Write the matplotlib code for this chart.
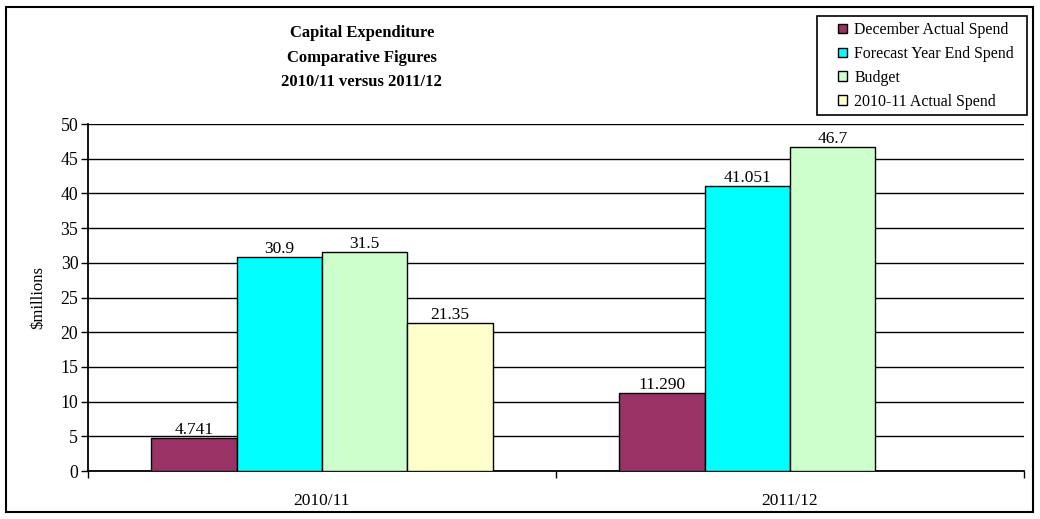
import matplotlib
matplotlib.use("Agg")
import matplotlib.pyplot as plt
import numpy as np
from matplotlib.patches import Rectangle

categories = ["2010/11", "2011/12"]
series_names = ["December Actual Spend", "Forecast Year End Spend", "Budget", "2010-11 Actual Spend"]
dec_actual = [4.741, 11.290]
forecast = [30.9, 41.051]
budget = [31.5, 46.7]
actual_1011 = [21.35, np.nan]
value_labels = [["4.741", "11.290"], ["30.9", "41.051"], ["31.5", "46.7"], ["21.35", ""]]
colors = ["#993366", "#00FFFF", "#CCFFCC", "#FFFFCC"]

plt.rcParams["font.family"] = ["Liberation Serif", "DejaVu Serif"]

fig = plt.figure(figsize=(10.4, 5.19), dpi=100)
ax = fig.add_axes([88 / 1040, 48 / 519, 936 / 1040, 347 / 519])

x = np.arange(len(categories))
width = 0.73 / 4
series = [dec_actual, forecast, budget, actual_1011]
for i, (vals, name, col) in enumerate(zip(series, series_names, colors)):
    pos = x + (i - 1.5) * width
    bars = ax.bar(pos, vals, width, color=col, edgecolor="black", linewidth=1.0,
                  label=name, zorder=3)
    for b, v, lab in zip(bars, vals, value_labels[i]):
        if lab:
            ax.text(b.get_x() + b.get_width() / 2, v, lab, ha="center",
                    va="bottom", fontsize=12.5, zorder=4)

ax.set_xlim(-0.5, 1.5)
ax.set_ylim(0, 50)
ax.set_yticks(np.arange(0, 51, 5))
ax.set_xticks([-0.5, 0.5, 1.5])
ax.set_xticklabels([])
ax.set_xticks(x, minor=True)
ax.set_xticklabels(categories, minor=True)
ax.tick_params(axis="x", which="minor", length=0, pad=16, labelsize=12.5)
ax.tick_params(axis="x", which="major", length=5, direction="out", width=1)
ax.tick_params(axis="y", length=5, direction="out", width=1, labelsize=12.8, pad=2)
ax.yaxis.grid(True, color="black", linewidth=1.0, zorder=0)
ax.set_axisbelow(True)
for s in ["top", "right"]:
    ax.spines[s].set_visible(False)
for s in ["left", "bottom"]:
    ax.spines[s].set_linewidth(1.3)
ax.set_ylabel("\\$millions", fontsize=12, labelpad=10)

fig.text(0.348, 0.936, "Capital Expenditure", ha="center", va="center",
         fontsize=12, fontweight="bold")
fig.text(0.348, 0.889, "Comparative Figures", ha="center", va="center",
         fontsize=12, fontweight="bold")
fig.text(0.348, 0.842, "2010/11 versus 2011/12", ha="center", va="center",
         fontsize=12, fontweight="bold")

# legend entries without frame; the box is drawn separately to get Excel-like padding
leg = fig.legend(loc="upper right", bbox_to_anchor=(1014 / 1040, 1 - 22 / 519),
                 fontsize=11.4, frameon=False,
                 handlelength=0.55, handleheight=0.55, handletextpad=0.45,
                 labelspacing=0.5, borderpad=0, borderaxespad=0)
fig.patches.append(Rectangle((817 / 1040, 1 - 115 / 519), 210 / 1040, 99 / 519,
                             transform=fig.transFigure, fill=False,
                             edgecolor="black", linewidth=1.2))

fig.patches.append(Rectangle((6 / 1040, 7 / 519), 1027 / 1040, 505 / 519,
                             transform=fig.transFigure, fill=False,
                             edgecolor="black", linewidth=1.5))

fig.savefig("out.png", dpi=100)
